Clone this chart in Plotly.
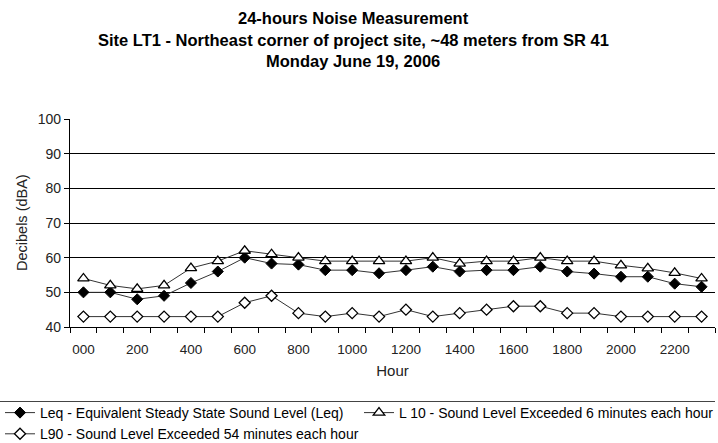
import plotly.graph_objects as go

hours = [f"{h*100:03d}" for h in range(24)]
tick_labels = [lab if i % 2 == 0 else "" for i, lab in enumerate(hours)]

leq = [50, 50, 48, 49, 52.7, 56, 60, 58.3, 58, 56.4, 56.4, 55.5, 56.4, 57.4, 56, 56.4,
       56.4, 57.4, 56, 55.4, 54.5, 54.5, 52.5, 51.6]
l10 = [54, 52, 51, 52, 57, 59, 62, 61, 60, 59, 59, 59, 59, 60, 58.3, 59,
       59, 60, 59, 59, 57.8, 56.9, 55.6, 54]
l90 = [43, 43, 43, 43, 43, 43, 47, 49, 44, 43, 44, 43, 45, 43, 44, 45,
       46, 46, 44, 44, 43, 43, 43, 43]

names = ["Leq - Equivalent Steady State Sound Level (Leq)",
         "L 10 - Sound Level Exceeded 6 minutes each hour",
         "L90 - Sound Level Exceeded 54 minutes each hour"]

FONT = "Liberation Sans, Arial, sans-serif"
LINE = "#333333"
W, H = 718, 443

fig = go.Figure()
fig.add_trace(go.Scatter(x=hours, y=leq, name=names[0], mode="lines+markers",
                         legend="legend",
                         line=dict(color=LINE, width=1),
                         marker=dict(symbol="diamond", size=8.5, color="black",
                                     line=dict(color="black", width=1))))
fig.add_trace(go.Scatter(x=hours, y=l10, name=names[1], mode="lines+markers",
                         legend="legend2",
                         line=dict(color=LINE, width=1),
                         marker=dict(symbol="triangle-up", size=10, color="white",
                                     line=dict(color="black", width=1.3))))
fig.add_trace(go.Scatter(x=hours, y=l90, name=names[2], mode="lines+markers",
                         legend="legend",
                         line=dict(color=LINE, width=1),
                         marker=dict(symbol="diamond", size=8.5, color="white",
                                     line=dict(color="black", width=1.3))))

titles = ["24-hours Noise Measurement",
          "Site LT1 - Northeast corner of project site, ~48 meters from SR 41",
          "Monday June 19, 2006"]
title_px = [18, 40, 61]
annotations = []
for t, py in zip(titles, title_px):
    annotations.append(dict(text=f"<b>{t}</b>", xref="paper", yref="paper",
                            x=(353 - 70) / 645, y=(327 - py) / 208,
                            xanchor="center", yanchor="middle", showarrow=False,
                            font=dict(family=FONT, size=16.5, color="black")))
# y-axis title
annotations.append(dict(text="Decibels (dBA)", xref="paper", yref="paper",
                        x=(22 - 70) / 645, y=0.5, textangle=-90,
                        xanchor="center", yanchor="middle", showarrow=False,
                        font=dict(family=FONT, size=14.5, color="#222222")))

legend_common = dict(orientation="v", xref="container", yref="container",
                     xanchor="left", yanchor="top",
                     font=dict(family=FONT, size=14, color="black"),
                     tracegroupgap=0, itemwidth=30, bgcolor="rgba(0,0,0,0)")

fig.update_layout(
    width=W, height=H,
    margin=dict(l=70, r=3, t=119, b=116, autoexpand=False),
    paper_bgcolor="white", plot_bgcolor="white",
    font=dict(family=FONT, color="#222222"),
    annotations=annotations,
    showlegend=True,
    legend=dict(x=0, y=1 - 397 / H, **legend_common),
    legend2=dict(x=359 / W, y=1 - 397 / H, **legend_common),
    shapes=[dict(type="line", xref="paper", yref="paper",
                 x0=-70 / 645, x1=1.0, y0=(327 - 401.5) / 208, y1=(327 - 401.5) / 208,
                 line=dict(color="#444444", width=1.2))],
    xaxis=dict(type="category", categoryorder="array", categoryarray=hours,
               range=[-0.5, 23.5],
               tickmode="array", tickvals=hours, ticktext=tick_labels, tickangle=0,
               tickson="boundaries", ticks="outside", ticklen=5, tickcolor="black",
               ticklabelstandoff=10,
               showline=True, linecolor="black", linewidth=1.2,
               showgrid=False, zeroline=False,
               tickfont=dict(family=FONT, size=13.5, color="#222222"),
               title=dict(text="Hour", font=dict(family=FONT, size=15, color="#222222"),
                          standoff=9)),
    yaxis=dict(range=[40, 100], tickmode="linear", tick0=40, dtick=10,
               ticks="outside", ticklen=5, tickcolor="black",
               showline=True, linecolor="black", linewidth=1.2,
               showgrid=True, gridcolor="black", gridwidth=1, zeroline=False,
               tickfont=dict(family=FONT, size=14, color="#222222")),
)

fig.write_html("out.html", config={"displayModeBar": False},
               post_script="document.body.style.margin='0';")
